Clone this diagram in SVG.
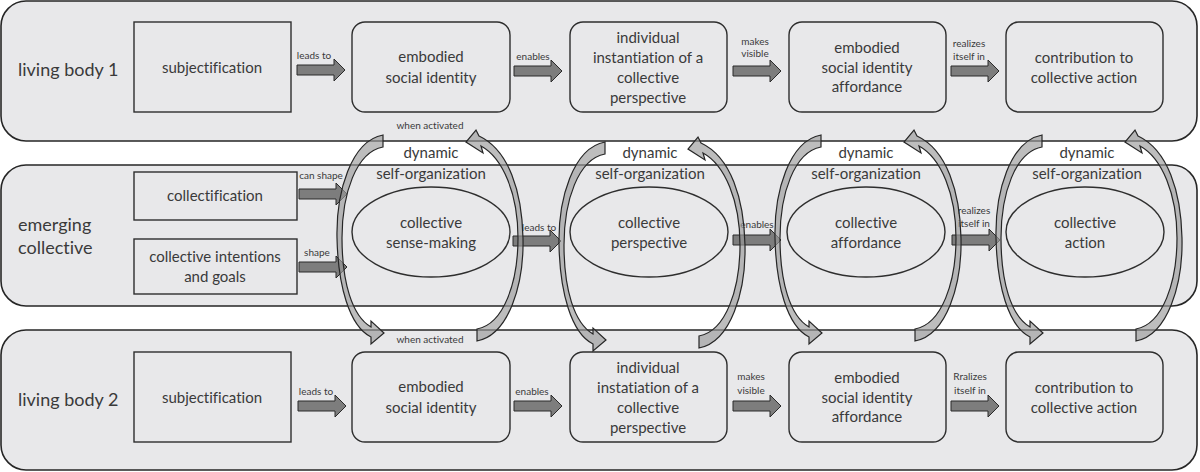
<svg xmlns="http://www.w3.org/2000/svg" xmlns:xlink="http://www.w3.org/1999/xlink" width="1200" height="472" viewBox="0 0 1200 472">
<style>
.band{fill:#e8e8ea;stroke:#262626;stroke-width:1.6}
.box{fill:#e8e8ea;stroke:#2e2e2e;stroke-width:1.4}
.t{font-family:Lato,"Liberation Sans",sans-serif;fill:#3a3a3a;text-anchor:middle;font-variant-ligatures:none;font-feature-settings:"liga" 0}
.n{font-size:15px}
.b{font-size:18px;text-anchor:start}
.s{font-size:10px}
.blk{fill:#7d7d7d;stroke:#2a2a2a;stroke-width:1}
.loop{fill:#9a9a9a;fill-opacity:0.65;stroke:#262626;stroke-width:1.2}
</style>
<defs>
<path id="arr" d="M0,-5 H37 V-11 L48,0 L37,11 V5 H0 Z"/>
<path id="loopL" d="M-47,135 C-79,141 -94,192 -93,238 C-92,285 -81,326 -59,337 L-59,344 L-46,333 L-59,321 L-59,327 C-78,316 -88,282 -88,238 C-88,194 -74,152 -47,147 Z"/>
<path id="loopR" d="M47,341 C79,335 94,284 93,238 C92,192 79,150 49,136 L46,130 L36,142 L53,153 L51,146 C73,158 88,194 88,238 C88,282 74,324 47,329 Z"/>
</defs>
<rect width="1200" height="472" fill="#ffffff"/>

<g id="band-living-body-1">
<rect class="band" x="1" y="1" width="1196" height="140" rx="25"/>
<text class="t b" x="18" y="76">living body 1</text>
</g>
<g id="band-emerging-collective">
<rect class="band" x="1" y="165" width="1196" height="141" rx="25"/>
<text class="t b" x="18" y="231">emerging</text>
<text class="t b" x="18" y="254">collective</text>
</g>
<g id="band-living-body-2">
<rect class="band" x="1" y="330" width="1196" height="140" rx="25"/>
<text class="t b" x="18" y="406">living body 2</text>
</g>

<!-- living body 1 nodes -->
<g id="lb1-subjectification">
<rect class="box" x="134" y="22" width="157" height="90"/>
<text class="t n" x="212" y="73">subjectification</text>
</g>
<g id="lb1-embodied-social-identity">
<rect class="box" x="352" y="22" width="158" height="90" rx="13"/>
<text class="t n" x="431" y="62">embodied</text>
<text class="t n" x="431" y="83">social identity</text>
</g>
<g id="lb1-individual-instantiation">
<rect class="box" x="570" y="22" width="157" height="90" rx="13"/>
<text class="t n" x="648" y="43">individual</text>
<text class="t n" x="648" y="63">instantiation of a</text>
<text class="t n" x="648" y="83">collective</text>
<text class="t n" x="648" y="103">perspective</text>
</g>
<g id="lb1-social-identity-affordance">
<rect class="box" x="789" y="22" width="157" height="90" rx="13"/>
<text class="t n" x="867" y="53">embodied</text>
<text class="t n" x="867" y="73">social identity</text>
<text class="t n" x="867" y="92">affordance</text>
</g>
<g id="lb1-contribution">
<rect class="box" x="1006" y="22" width="157" height="90" rx="13"/>
<text class="t n" x="1084" y="63">contribution to</text>
<text class="t n" x="1084" y="83">collective action</text>
</g>

<!-- emerging collective nodes -->
<g id="ec-collectification">
<rect class="box" x="134" y="172" width="163" height="48"/>
<text class="t n" x="215" y="201">collectification</text>
</g>
<g id="ec-intentions-goals">
<rect class="box" x="134" y="239" width="163" height="55"/>
<text class="t n" x="215" y="262">collective intentions</text>
<text class="t n" x="215" y="282">and goals</text>
</g>
<g id="ec-sense-making">
<ellipse class="box" cx="431" cy="232" rx="79" ry="45"/>
<text class="t n" x="431" y="228">collective</text>
<text class="t n" x="431" y="248">sense-making</text>
</g>
<g id="ec-perspective">
<ellipse class="box" cx="649" cy="232" rx="79" ry="45"/>
<text class="t n" x="649" y="228">collective</text>
<text class="t n" x="649" y="248">perspective</text>
</g>
<g id="ec-affordance">
<ellipse class="box" cx="866" cy="232" rx="79" ry="45"/>
<text class="t n" x="866" y="228">collective</text>
<text class="t n" x="866" y="248">affordance</text>
</g>
<g id="ec-action">
<ellipse class="box" cx="1085" cy="232" rx="79" ry="45"/>
<text class="t n" x="1085" y="228">collective</text>
<text class="t n" x="1085" y="248">action</text>
</g>

<!-- living body 2 nodes -->
<g id="lb2-subjectification">
<rect class="box" x="134" y="352" width="157" height="90"/>
<text class="t n" x="212" y="403">subjectification</text>
</g>
<g id="lb2-embodied-social-identity">
<rect class="box" x="352" y="352" width="158" height="90" rx="13"/>
<text class="t n" x="431" y="392">embodied</text>
<text class="t n" x="431" y="413">social identity</text>
</g>
<g id="lb2-individual-instatiation">
<rect class="box" x="570" y="352" width="157" height="90" rx="13"/>
<text class="t n" x="648" y="373">individual</text>
<text class="t n" x="648" y="393">instatiation of a</text>
<text class="t n" x="648" y="413">collective</text>
<text class="t n" x="648" y="433">perspective</text>
</g>
<g id="lb2-social-identity-affordance">
<rect class="box" x="789" y="352" width="157" height="90" rx="13"/>
<text class="t n" x="867" y="383">embodied</text>
<text class="t n" x="867" y="403">social identity</text>
<text class="t n" x="867" y="422">affordance</text>
</g>
<g id="lb2-contribution">
<rect class="box" x="1006" y="352" width="157" height="90" rx="13"/>
<text class="t n" x="1084" y="393">contribution to</text>
<text class="t n" x="1084" y="413">collective action</text>
</g>

<g id="dynamic-self-organization">
<text class="t n" x="431" y="158">dynamic</text>
<text class="t n" x="431" y="179">self-organization</text>
<text class="t n" x="650" y="158">dynamic</text>
<text class="t n" x="650" y="179">self-organization</text>
<text class="t n" x="866" y="158">dynamic</text>
<text class="t n" x="866" y="179">self-organization</text>
<text class="t n" x="1087" y="158">dynamic</text>
<text class="t n" x="1087" y="179">self-organization</text>
</g>

<g id="connectors">
<!-- living body 1 -->
<use href="#arr" class="blk" x="297" y="70"/>
<text class="t s" x="314" y="59">leads to</text>
<use href="#arr" class="blk" x="514" y="71"/>
<text class="t s" x="533" y="60">enables</text>
<use href="#arr" class="blk" x="733" y="71"/>
<text class="t s" x="755" y="45">makes</text>
<text class="t s" x="755" y="57">visible</text>
<use href="#arr" class="blk" x="951" y="71"/>
<text class="t s" x="969" y="47">realizes</text>
<text class="t s" x="969" y="60">itself in</text>
<!-- emerging collective -->
<use href="#arr" class="blk" x="299" y="194"/>
<text class="t s" x="321" y="179">can shape</text>
<use href="#arr" class="blk" x="299" y="267"/>
<text class="t s" x="317" y="256">shape</text>
<use href="#arr" class="blk" x="513" y="241"/>
<text class="t s" x="539" y="231">leads to</text>
<use href="#arr" class="blk" x="733" y="240"/>
<text class="t s" x="757" y="228">enables</text>
<use href="#arr" class="blk" x="952" y="240"/>
<text class="t s" x="974" y="214">realizes</text>
<text class="t s" x="974" y="227">itself in</text>
<!-- living body 2 -->
<use href="#arr" class="blk" x="298" y="406"/>
<text class="t s" x="316" y="395">leads to</text>
<use href="#arr" class="blk" x="514" y="406"/>
<text class="t s" x="532" y="395">enables</text>
<use href="#arr" class="blk" x="733" y="406"/>
<text class="t s" x="751" y="380">makes</text>
<text class="t s" x="751" y="394">visible</text>
<use href="#arr" class="blk" x="951" y="406"/>
<text class="t s" x="970" y="380">Rralizes</text>
<text class="t s" x="970" y="394">itself in</text>
<!-- dynamic loops -->
<use href="#loopL" class="loop" x="430" y="0"/>
<use href="#loopR" class="loop" x="430" y="0"/>
<use href="#loopL" class="loop" x="652" y="7"/>
<use href="#loopR" class="loop" x="652" y="7"/>
<use href="#loopL" class="loop" x="868" y="0"/>
<use href="#loopR" class="loop" x="868" y="0"/>
<use href="#loopL" class="loop" x="1089" y="0"/>
<use href="#loopR" class="loop" x="1089" y="0"/>
<text class="t s" x="430" y="129">when activated</text>
<text class="t s" x="430" y="343">when activated</text>
</g>
</svg>
